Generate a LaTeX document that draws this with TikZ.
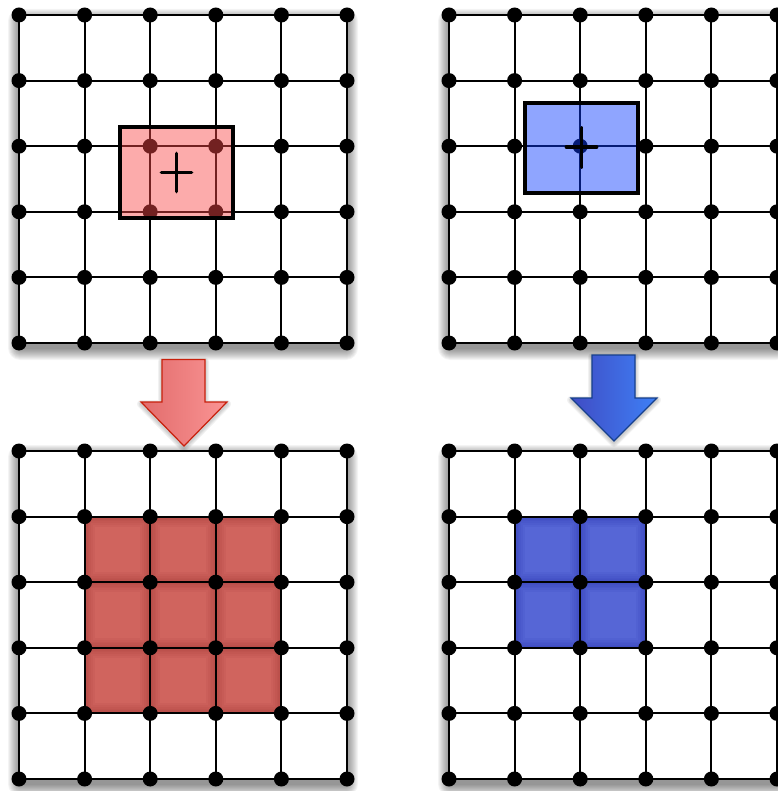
\documentclass[tikz,border=0pt]{standalone}
\usetikzlibrary{calc}

\definecolor{redsel}{RGB}{250,72,72}
\definecolor{bluesel}{RGB}{12,60,255}
\definecolor{redcell}{RGB}{208,100,94}
\definecolor{redcelledge}{RGB}{160,55,50}
\definecolor{bluecell}{RGB}{86,102,214}
\definecolor{bluecelledge}{RGB}{40,52,175}
\definecolor{redarrowL}{RGB}{226,108,108}
\definecolor{redarrowR}{RGB}{250,148,148}
\definecolor{redarrowline}{RGB}{200,32,12}
\definecolor{bluearrowL}{RGB}{64,76,196}
\definecolor{bluearrowR}{RGB}{62,128,246}
\definecolor{bluearrowline}{RGB}{22,64,140}

% one shaded lattice cell: #1 fill, #2 edge colour, #3 #4 upper left corner
\newcommand{\tintcell}[4]{%
  \fill[#1] ({#3},{#4}) rectangle ++(65.6,65.6);
  \begin{scope}
    \clip ({#3},{#4}) rectangle ++(65.6,65.6);
    \foreach \w in {20,16,12,9,6,3}
      \draw[#2, line width=\w pt, opacity=0.09] ({#3},{#4}) rectangle ++(65.6,65.6);
  \end{scope}%
}

\begin{document}
\begin{tikzpicture}[x=1pt, y=-1pt]
\tikzset{
  dot/.style={circle, fill=black, inner sep=0pt, minimum size=15pt},
  gridline/.style={line width=2pt, line cap=round},
  softshadow/.style={fill=black, opacity=0.045},
  selbox/.style={draw=black, line width=3.5pt, inner sep=0pt, fill opacity=0.46, draw opacity=1},
  cross/.style={line width=3.8pt, line cap=round},
  movearrow/.style={line width=1.2pt, line join=miter},
}
\useasboundingbox (0,0) rectangle (777,791);

% Panels with soft shadow
\foreach \ox/\oy in {19/15, 449/15, 19/451, 449/451} {
  \foreach \s in {1,...,12}
    \fill[softshadow, rounded corners=\s pt] ({\ox-\s+1},{\oy-\s+6}) rectangle ({\ox+328+\s-1},{\oy+328+\s+5});
  \fill[white] (\ox,\oy) rectangle ++(328,328);
}

% Filled cells below
\foreach \i in {1,2,3} {
  \foreach \j in {1,2,3} {
    \tintcell{redcell}{redcelledge}{19+65.6*\i}{451+65.6*\j}
  }
}
\foreach \i in {1,2} {
  \foreach \j in {1,2} {
    \tintcell{bluecell}{bluecelledge}{449+65.6*\i}{451+65.6*\j}
  }
}

% Four lattices
\foreach \p/\ox/\oy in {tl/19/15, tr/449/15, bl/19/451, br/449/451} {
  \foreach \i in {0,...,5}
    \foreach \j in {0,...,5}
      \node[dot] (\p\i\j) at ({\ox+65.6*\i},{\oy+65.6*\j}) {};
  \foreach \k in {0,...,5} {
    \draw[gridline] (\p\k0.center) -- (\p\k5.center);
    \draw[gridline] (\p0\k.center) -- (\p5\k.center);
  }
}

% Selection boxes above
\node (redbox) [selbox, fill=redsel, minimum width=113pt, minimum height=91pt] at (176.5,172.5) {};
\node (bluebox) [selbox, fill=bluesel, minimum width=113pt, minimum height=90pt] at (581.5,148) {};
\draw[cross] ($(redbox.center)+(-15,0)$) -- ++(30,0);
\draw[cross] ($(redbox.center)+(0,-19)$) -- ++(0,38);
\draw[cross] ($(bluebox.center)+(-15,-1)$) -- ++(30,0);
\draw[cross] ($(bluebox.center)+(0,-20)$) -- ++(0,39);

% Arrows
\foreach \s in {1,...,4} {
  \draw[black, opacity=0.05, line width=2*\s pt, line join=round]
    (162,361.5) -- (205,361.5) -- (205,404) -- (227,404) -- (184,448) -- (141,404) -- (162,404) -- cycle;
  \draw[black, opacity=0.05, line width=2*\s pt, line join=round]
    (592,357) -- (635,357) -- (635,400) -- (657,400) -- (614,443) -- (571,400) -- (592,400) -- cycle;
}
\shade[movearrow, left color=redarrowL, right color=redarrowR, draw=redarrowline]
  (162,359.5) -- (205,359.5) -- (205,402) -- (227,402) -- (184,446) -- (141,402) -- (162,402) -- cycle;
\shade[movearrow, left color=bluearrowL, right color=bluearrowR, draw=bluearrowline]
  (592,355) -- (635,355) -- (635,398) -- (657,398) -- (614,441) -- (571,398) -- (592,398) -- cycle;

\end{tikzpicture}
\end{document}
